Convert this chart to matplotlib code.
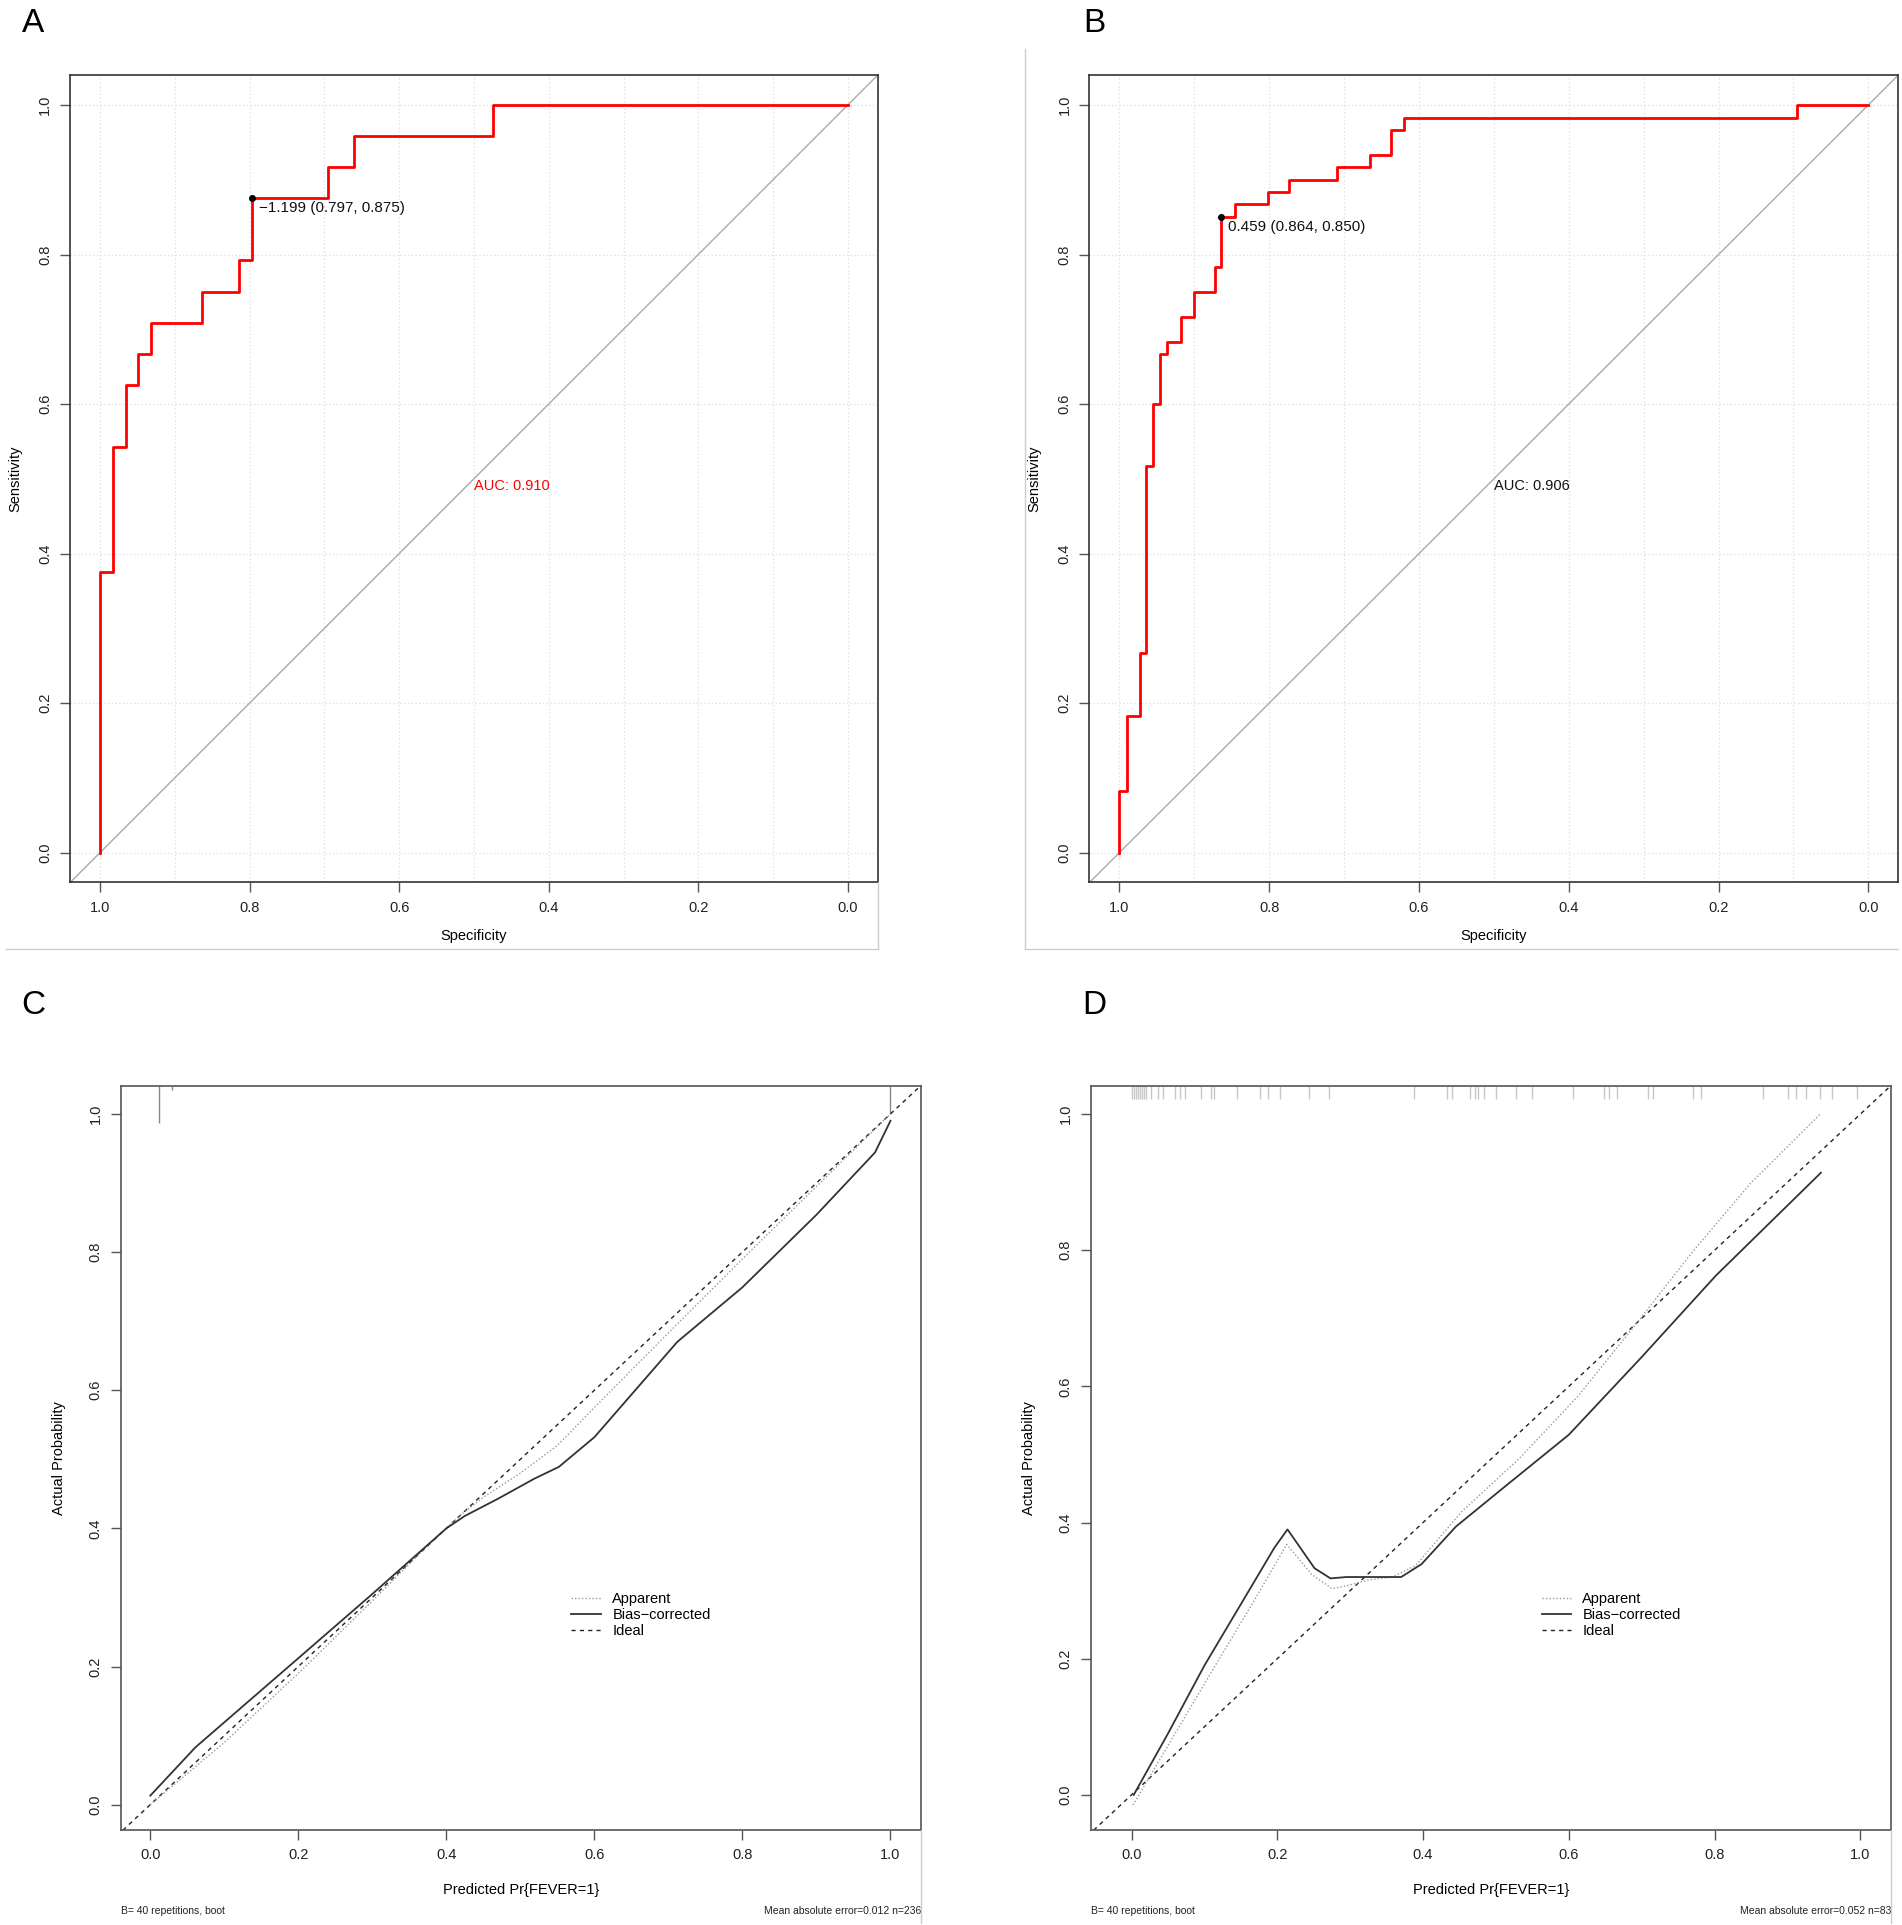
import numpy as np
import matplotlib
matplotlib.use("Agg")
import matplotlib.pyplot as plt
from matplotlib.lines import Line2D

plt.rcParams['font.family'] = ['Liberation Sans', 'DejaVu Sans']

# ROC A: specificity where the curve rises, sensitivity level reached
spec_a = [1.0, 0.983, 0.966, 0.949, 0.932, 0.864, 0.814, 0.797, 0.695, 0.661, 0.475, 0.0]
sens_a = [0.0, 0.375, 0.542, 0.625, 0.667, 0.708, 0.750, 0.792, 0.875, 0.917, 0.958, 1.0]
best_a = (0.797, 0.875)
thr_a = "\u22121.199 (0.797, 0.875)"
auc_a = "AUC: 0.910"

# ROC B
spec_b = [1.0, 0.990, 0.973, 0.964, 0.955, 0.946, 0.937, 0.918, 0.900, 0.873,
          0.864, 0.846, 0.801, 0.774, 0.710, 0.665, 0.638, 0.620, 0.095, 0.0]
sens_b = [0.0, 0.083, 0.183, 0.267, 0.517, 0.600, 0.667, 0.683, 0.717, 0.750,
          0.783, 0.850, 0.867, 0.883, 0.900, 0.917, 0.933, 0.967, 0.983, 1.0]
best_b = (0.864, 0.850)
thr_b = "0.459 (0.864, 0.850)"
auc_b = "AUC: 0.906"

# calibration C
app_c_x = [0.0, 0.1, 0.2, 0.3, 0.37, 0.42, 0.45, 0.5, 0.55, 0.6, 0.7, 0.8, 0.9, 1.0]
app_c_y = [0.0, 0.09, 0.19, 0.295, 0.37, 0.42, 0.445, 0.48, 0.52, 0.575, 0.683, 0.79, 0.895, 1.0]
bc_c_x = [0.0, 0.061, 0.2, 0.3, 0.4, 0.425, 0.47, 0.519, 0.552, 0.6, 0.712, 0.8, 0.9, 0.979, 1.0]
bc_c_y = [0.013, 0.083, 0.212, 0.305, 0.40, 0.418, 0.443, 0.472, 0.489, 0.532, 0.67, 0.749, 0.854, 0.944, 0.99]
rug_c_x = [0.0115, 0.03, 1.0]
rug_c_len = [0.054, 0.006, 0.041]
foot_c = "Mean absolute error=0.012 n=236"

# calibration D
app_d_x = [0.002, 0.057, 0.1, 0.168, 0.213, 0.247, 0.275, 0.295, 0.326, 0.358, 0.39,
           0.453, 0.532, 0.612, 0.691, 0.77, 0.849, 0.945]
app_d_y = [-0.015, 0.085, 0.163, 0.285, 0.368, 0.324, 0.303, 0.307, 0.316, 0.32, 0.337,
           0.416, 0.494, 0.585, 0.69, 0.798, 0.898, 1.0]
bc_d_x = [0.003, 0.05, 0.1, 0.15, 0.196, 0.214, 0.251, 0.273, 0.295, 0.37, 0.398,
          0.445, 0.509, 0.6, 0.699, 0.802, 0.946]
bc_d_y = [0.0, 0.09, 0.19, 0.28, 0.363, 0.39, 0.333, 0.318, 0.32, 0.32, 0.339,
          0.394, 0.45, 0.529, 0.642, 0.763, 0.914]
rug_d_x = [0.0003, 0.003, 0.006, 0.009, 0.012, 0.014, 0.017, 0.020, 0.027, 0.036,
           0.043, 0.060, 0.067, 0.074, 0.095, 0.109, 0.113, 0.145, 0.176, 0.187,
           0.204, 0.243, 0.271, 0.388, 0.433, 0.440, 0.465, 0.471, 0.476, 0.483,
           0.500, 0.528, 0.549, 0.606, 0.648, 0.655, 0.666, 0.708, 0.715, 0.771,
           0.782, 0.866, 0.901, 0.912, 0.926, 0.944, 0.961, 0.996]
foot_d = "Mean absolute error=0.052 n=83"

foot_left = "B= 40 repetitions, boot"
ticks = [0.0, 0.2, 0.4, 0.6, 0.8, 1.0]
tick_labels = ["0.0", "0.2", "0.4", "0.6", "0.8", "1.0"]

W, H = 1545.0, 1564.0  # layout measured on the reference


def box(l, t, r, b):
    return [l / W, 1 - b / H, (r - l) / W, (b - t) / H]


fig = plt.figure(figsize=(19.02, 19.25), dpi=100)

axA = fig.add_axes(box(57, 61, 713, 717))
axB = fig.add_axes(box(885, 61, 1542, 717))
axC = fig.add_axes(box(98, 882, 748, 1487))
axD = fig.add_axes(box(886, 882, 1536, 1487))


def style(ax, edge):
    for s in ax.spines.values():
        s.set_color(edge)
        s.set_linewidth(1.2)
    ax.set_xticks(ticks)
    ax.set_xticklabels(tick_labels)
    ax.set_yticks(ticks)
    ax.set_yticklabels(tick_labels, rotation=90, va='center')
    ax.tick_params(direction='out', length=7, width=1.0, color='#555555',
                   labelsize=10.5, pad=6, labelcolor='#222222')


def roc(ax, spec, sens, best, thr, auc, auc_color):
    style(ax, '#333333')
    ax.set_xlim(1.04, -0.04)
    ax.set_ylim(-0.04, 1.04)
    for g in np.arange(0, 1.01, 0.1):
        ax.axvline(g, color='#DDDDDD', lw=0.9, ls=(0, (1, 2)), zorder=0)
    for g in ticks:
        ax.axhline(g, color='#DDDDDD', lw=0.9, ls=(0, (1, 2)), zorder=0)
    ax.axline((1, 0), (0, 1), color='#AAAAAA', lw=1.0, zorder=1)
    ax.step(spec, sens, where='pre', color='#FF0000', lw=2.0, zorder=3)
    ax.plot([best[0]], [best[1]], 'o', color='black', ms=4, zorder=4)
    ax.annotate(thr, best, xytext=(5, -2), textcoords='offset points',
                ha='left', va='top', fontsize=11, color='#111111')
    ax.text(0.5, 0.5, auc, ha='left', va='top', fontsize=10.5, color=auc_color)
    ax.set_xlabel("Specificity", fontsize=10.5)
    ax.set_ylabel("Sensitivity", fontsize=10.5)
    ax.xaxis.set_label_coords(0.5, -0.058)
    ax.yaxis.set_label_coords(-0.059, 0.5)


def calib(ax, xlim, ylim, ax_, ay_, bx_, by_, rug_x, rug_len, rug_col, foot):
    style(ax, '#555555')
    ax.set_xlim(*xlim)
    ax.set_ylim(*ylim)
    ax.axline((0, 0), (1, 1), color='#222222', lw=1.0, ls=(0, (3, 3)), zorder=2)
    ax.plot(ax_, ay_, color='#999999', lw=1.0, ls=(0, (1, 1.5)), zorder=2)
    ax.plot(bx_, by_, color='#333333', lw=1.3, zorder=3)
    top = ylim[1]
    for x, ln in zip(rug_x, rug_len):
        ax.plot([x, x], [top, top - ln], color=rug_col, lw=1.0, zorder=1,
                solid_capstyle='butt', clip_on=False)
    handles = [Line2D([], [], color='#999999', lw=1.0, ls=(0, (1, 1.5))),
               Line2D([], [], color='#333333', lw=1.3),
               Line2D([], [], color='#222222', lw=1.0, ls=(0, (3, 3)))]
    ax.legend(handles, ["Apparent", "Bias\u2212corrected", "Ideal"],
              loc='upper left', bbox_to_anchor=(0.547, 0.338), frameon=False,
              fontsize=10.5, handlelength=2.0, labelspacing=0.15,
              handletextpad=0.8)
    ax.set_xlabel("Predicted Pr{FEVER=1}", fontsize=10.5)
    ax.set_ylabel("Actual Probability", fontsize=10.5)
    ax.xaxis.set_label_coords(0.5, -0.071)
    ax.yaxis.set_label_coords(-0.068, 0.5)
    ax.text(0.0, -0.109, foot_left, transform=ax.transAxes, ha='left',
            va='center', fontsize=7.5, color='#222222')
    ax.text(1.0, -0.109, foot, transform=ax.transAxes, ha='right',
            va='center', fontsize=7.5, color='#222222')


roc(axA, spec_a, sens_a, best_a, thr_a, auc_a, '#FF0000')
roc(axB, spec_b, sens_b, best_b, thr_b, auc_b, '#111111')
calib(axC, (-0.04, 1.041), (-0.037, 1.041), app_c_x, app_c_y, bc_c_x, bc_c_y,
      rug_c_x, rug_c_len, '#888888', foot_c)
calib(axD, (-0.056, 1.042), (-0.052, 1.042), app_d_x, app_d_y, bc_d_x, bc_d_y,
      rug_d_x, [0.02] * len(rug_d_x), '#C8C8C8', foot_d)

# panel letters
for lab, x, y in [("A", 27, 19), ("B", 889, 19), ("C", 27, 817), ("D", 889, 817)]:
    fig.text(x / W, 1 - y / H, lab, fontsize=24, ha='center', va='center')

# faint frames left over from the original panel images
frame = dict(color='#CCCCCC', lw=1.0, transform=fig.transFigure)
fig.add_artist(Line2D([5 / W, 713 / W], [1 - 771 / H] * 2, **frame))
fig.add_artist(Line2D([713 / W] * 2, [1 - 717 / H, 1 - 771 / H], **frame))
fig.add_artist(Line2D([833 / W, 1542 / W], [1 - 771 / H] * 2, **frame))
fig.add_artist(Line2D([833 / W] * 2, [1 - 40 / H, 1 - 771 / H], **frame))
fig.add_artist(Line2D([748 / W] * 2, [1 - 1487 / H, 1 - 1562 / H], **frame))
fig.add_artist(Line2D([1536 / W] * 2, [1 - 1487 / H, 1 - 1562 / H], **frame))

fig.savefig("out.png", dpi=100)
